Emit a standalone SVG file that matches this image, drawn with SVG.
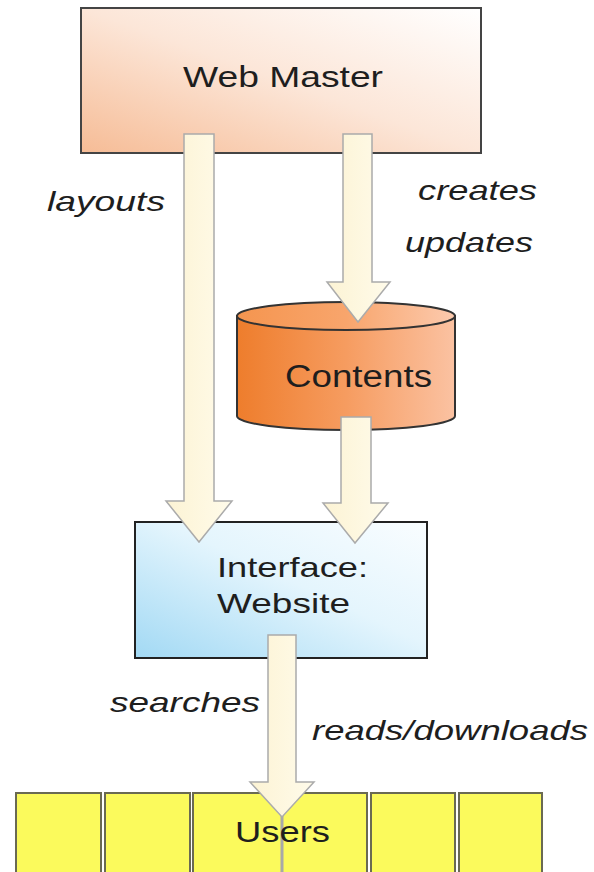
<svg xmlns="http://www.w3.org/2000/svg" width="594" height="872" viewBox="0 0 594 872">
<defs>
<linearGradient id="gWeb" x1="0" y1="1" x2="1" y2="0">
<stop offset="0" stop-color="#f6bc96"/>
<stop offset="0.5" stop-color="#fce6d8"/>
<stop offset="1" stop-color="#ffffff"/>
</linearGradient>
<linearGradient id="gIf" x1="0" y1="1" x2="1" y2="0">
<stop offset="0" stop-color="#a2d9f4"/>
<stop offset="0.55" stop-color="#e4f5fd"/>
<stop offset="1" stop-color="#f9fdff"/>
</linearGradient>
<linearGradient id="gCyl" x1="0" y1="0" x2="1" y2="0">
<stop offset="0" stop-color="#ee7d2c"/>
<stop offset="0.5" stop-color="#f69c60"/>
<stop offset="1" stop-color="#fbc2a2"/>
</linearGradient>
<linearGradient id="gCylTop" x1="0" y1="0" x2="1" y2="0">
<stop offset="0" stop-color="#f5954f"/>
<stop offset="0.5" stop-color="#f8a56c"/>
<stop offset="1" stop-color="#fccaae"/>
</linearGradient>
<linearGradient id="gArr" x1="0" y1="0" x2="1" y2="0">
<stop offset="0" stop-color="#fcf3d4"/>
<stop offset="1" stop-color="#fffbea"/>
</linearGradient>
</defs>
<style>
.box{stroke:#444;stroke-width:2}
.node{font-family:"Liberation Sans",Arial,sans-serif;fill:#1e1e1e}
.lbl{font-family:"Liberation Sans",Arial,sans-serif;font-style:italic;fill:#1e1e1e;font-size:28px}
.arr{fill:url(#gArr);stroke:#ababab;stroke-width:1.5;stroke-linejoin:miter}
.user{fill:#fbfa5c;stroke:#6a6a52;stroke-width:2}
</style>
<rect width="594" height="872" fill="#ffffff"/>

<g id="webmaster">
<rect class="box" x="81" y="8" width="400" height="145" fill="url(#gWeb)"/>
<text class="node" x="183" y="87" font-size="30" textLength="200" lengthAdjust="spacingAndGlyphs">Web Master</text>
</g>

<g id="contents">
<path d="M237,316 V416 A109,14 0 0 0 455,416 V316 Z" fill="url(#gCyl)" stroke="#333" stroke-width="2"/>
<ellipse cx="346" cy="316" rx="109" ry="14" fill="url(#gCylTop)" stroke="#333" stroke-width="2"/>
<text class="node" x="285" y="387" font-size="31" textLength="147" lengthAdjust="spacingAndGlyphs">Contents</text>
</g>

<g id="interface">
<rect x="135" y="522" width="292" height="136" fill="url(#gIf)" stroke="#222" stroke-width="2"/>
<text class="node" x="217" y="577" font-size="28" textLength="151" lengthAdjust="spacingAndGlyphs">Interface:</text>
<text class="node" x="217" y="613" font-size="28" textLength="133" lengthAdjust="spacingAndGlyphs">Website</text>
</g>

<g id="users">
<rect class="user" x="16" y="793" width="85" height="90"/>
<rect class="user" x="105" y="793" width="85" height="90"/>
<rect class="user" x="193" y="793" width="89" height="90"/>
<rect class="user" x="282" y="793" width="85" height="90"/>
<rect class="user" x="371" y="793" width="84" height="90"/>
<rect class="user" x="459" y="793" width="83" height="90"/>
<line x1="282" y1="815" x2="282" y2="872" stroke="#a8a8a8" stroke-width="3"/>
<text class="node" x="235" y="842" font-size="30" textLength="95" lengthAdjust="spacingAndGlyphs">Users</text>
</g>

<g id="connectors">
<polygon class="arr" points="184,134 214,134 214,501 232,501 199,542 166,501 184,501"/>
<polygon class="arr" points="343,134 372,134 372,282 390,282 358,322 327,282 343,282"/>
<polygon class="arr" points="341,417 371,417 371,503 388,503 355,543 323,503 341,503"/>
<polygon class="arr" points="268,635 296,635 296,782 314,782 282,817 250,782 268,782"/>
<text class="lbl" x="47" y="211" textLength="118" lengthAdjust="spacingAndGlyphs">layouts</text>
<text class="lbl" x="418" y="200" textLength="119" lengthAdjust="spacingAndGlyphs">creates</text>
<text class="lbl" x="405" y="252" textLength="128" lengthAdjust="spacingAndGlyphs">updates</text>
<text class="lbl" x="110" y="712" textLength="150" lengthAdjust="spacingAndGlyphs">searches</text>
<text class="lbl" x="312" y="740" textLength="276" lengthAdjust="spacingAndGlyphs">reads/downloads</text>
</g>
</svg>
